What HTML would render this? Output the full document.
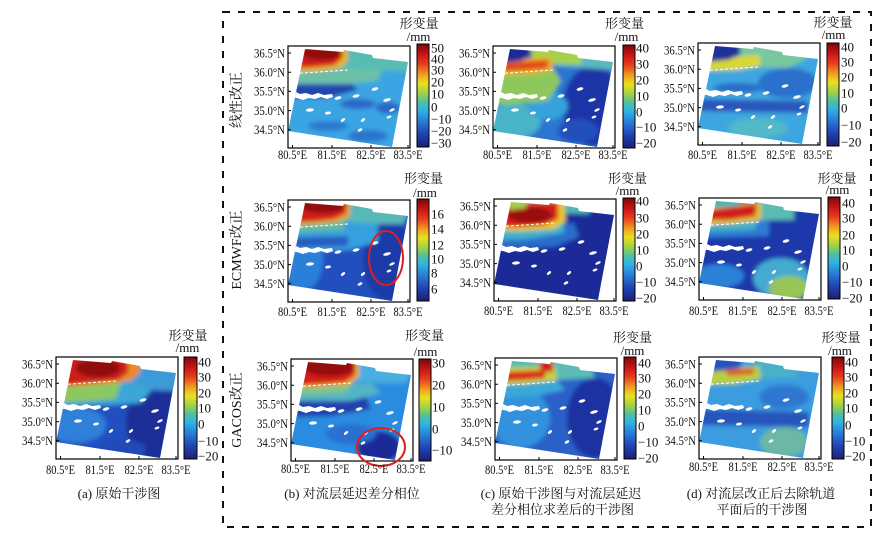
<!DOCTYPE html>
<html><head><meta charset="utf-8"><style>
html,body{margin:0;padding:0;background:#fff;}
svg{display:block;}
text{font-family:"Liberation Serif","Noto Serif CJK SC",serif;fill:#111;}
.t{font-size:12.5px;}
.k{font-size:13px;}
.c{font-size:13px;}
</style></head><body>
<svg width="895" height="546" viewBox="0 0 895 546" xmlns="http://www.w3.org/2000/svg">
<defs>
 <clipPath id="mc" clipPathUnits="userSpaceOnUse"><polygon points="17,3 55,6 56,4 84,9 85,12 120,16 104,101 0,85"/></clipPath>
 <filter id="bl" x="-20%" y="-20%" width="140%" height="140%"><feGaussianBlur stdDeviation="2"/></filter>
 <linearGradient id="jet" x1="0" y1="0" x2="0" y2="1">
  <stop offset="0" stop-color="#7c0808"/>
  <stop offset="0.1" stop-color="#c81414"/>
  <stop offset="0.2" stop-color="#e84020"/>
  <stop offset="0.3" stop-color="#f0a020"/>
  <stop offset="0.38" stop-color="#e8e020"/>
  <stop offset="0.48" stop-color="#a0d048"/>
  <stop offset="0.56" stop-color="#50c0a0"/>
  <stop offset="0.64" stop-color="#30b4e4"/>
  <stop offset="0.76" stop-color="#2878d4"/>
  <stop offset="0.88" stop-color="#2040b0"/>
  <stop offset="1" stop-color="#1c2070"/>
 </linearGradient>
 <g id="wb">
  <polyline points="2,28 15,27 30,26 45,25 60,24" fill="none" stroke="#fff" stroke-width="1.1" stroke-dasharray="3 2"/>
  <path fill="#fff" d="M1,47 L8,46 L12,48 L18,47 L24,49 L30,47 L36,49 L44,48 L45,51 L39,53 L33,51 L27,53 L21,52 L15,54 L9,52 L1,51Z"/>
  <g fill="#fff">
   <ellipse cx="50" cy="52" rx="3.5" ry="1.5" transform="rotate(-15 50 52)"/>
   <ellipse cx="68" cy="50" rx="3.5" ry="1.5" transform="rotate(-15 68 50)"/>
   <ellipse cx="87" cy="43" rx="3.5" ry="1.5" transform="rotate(-15 87 43)"/>
   <ellipse cx="99" cy="54" rx="4" ry="1.5" transform="rotate(-15 99 54)"/>
   <ellipse cx="104" cy="64" rx="3" ry="1.3" transform="rotate(-25 104 64)"/>
   <ellipse cx="22" cy="64" rx="4" ry="1.6" transform="rotate(-5 22 64)"/>
   <ellipse cx="40" cy="67" rx="3" ry="1.4" transform="rotate(-10 40 67)"/>
   <ellipse cx="55" cy="74" rx="2.5" ry="1.3" transform="rotate(-40 55 74)"/>
   <ellipse cx="75" cy="74" rx="2.5" ry="1.3" transform="rotate(-40 75 74)"/>
   <ellipse cx="72" cy="84" rx="2.5" ry="1.3" transform="rotate(-30 72 84)"/>
   <ellipse cx="101" cy="71" rx="2.5" ry="1.2" transform="rotate(-20 101 71)"/>
  </g>
 </g>
 <g id="fr">
  <rect x="0" y="0" width="122" height="102" fill="none" stroke="#000" stroke-width="1.2"/>
  <path d="M4.5,102V99M44,102V99M83,102V99M120,102V99M0,7H3M0,26.2H3M0,45.4H3M0,64.6H3M0,83.8H3" stroke="#000" stroke-width="1"/>
 </g>
</defs>
<rect width="895" height="546" fill="#fff"/>

<!-- dashed box -->
<rect x="223" y="12" width="648" height="515" fill="none" stroke="#111" stroke-width="2" stroke-dasharray="7 8"/>

<!-- ============ Panel a ============ -->
<g transform="translate(56,357)">
 <g clip-path="url(#mc)">
  <g filter="url(#bl)">
   <rect x="-10" y="-10" width="145" height="125" fill="#2050c0"/>
   <ellipse cx="100" cy="65" rx="30" ry="38" fill="#1c2e98"/>
   <ellipse cx="20" cy="68" rx="30" ry="18" fill="#2e80d8"/>
   <ellipse cx="65" cy="92" rx="25" ry="10" fill="#2448b8"/>
   <polygon points="-5,27 80,22 98,30 85,46 55,48 20,49 -5,52" fill="#3aa6d8"/>
   <polygon points="-5,28 65,25 60,42 20,45 -5,45" fill="#8cc860"/>
   <polygon points="75,5 125,12 120,34 95,33 80,26" fill="#3c9ad8"/>
   <polygon points="10,-5 84,-5 84,16 74,24 45,27 20,29 5,30" fill="#ec8a22"/>
   <polygon points="12,-5 72,-5 72,15 62,23 40,25 20,27 8,28" fill="#cc1a1a"/>
   <ellipse cx="42" cy="11" rx="22" ry="9" fill="#900c0c"/>
  </g>
  <use href="#wb"/>
 </g>
 <use href="#fr"/>
</g>

<!-- ============ Panel b1 ============ -->
<g transform="translate(288,46)">
 <g clip-path="url(#mc)">
  <g filter="url(#bl)">
   <rect x="-10" y="-10" width="145" height="125" fill="#3aa4e2"/>
   <polygon points="-5,36 60,34 70,44 40,52 -5,52" fill="#2446b0"/>
   <ellipse cx="70" cy="58" rx="18" ry="5" fill="#2a68c8"/>
   <ellipse cx="100" cy="62" rx="12" ry="6" fill="#2a68c8"/>
   <ellipse cx="40" cy="80" rx="20" ry="5" fill="#2c78d0"/>
   <ellipse cx="80" cy="90" rx="20" ry="6" fill="#2c74cc"/>
   <polygon points="-5,22 70,18 95,22 90,35 60,38 -5,38" fill="#6cc0a8"/>
   <polygon points="45,0 95,8 125,15 120,26 95,24 60,22 48,18" fill="#58bcb4"/>
   <polygon points="12,-5 58,-5 60,14 52,22 30,25 8,26" fill="#ecb024"/>
   <polygon points="14,-5 54,-5 54,12 46,19 28,21 10,22" fill="#d01c1c"/>
   <ellipse cx="34" cy="7" rx="20" ry="7" fill="#900c0c"/>
  </g>
  <use href="#wb"/>
 </g>
 <use href="#fr"/>
</g>

<!-- ============ Panel c1 ============ -->
<g transform="translate(493,46)">
 <g clip-path="url(#mc)">
  <g filter="url(#bl)">
   <rect x="-10" y="-10" width="145" height="125" fill="#2a74d0"/>
   <ellipse cx="100" cy="60" rx="30" ry="40" fill="#1e36a6"/>
   <ellipse cx="85" cy="85" rx="20" ry="12" fill="#2450bc"/>
   <ellipse cx="20" cy="75" rx="28" ry="18" fill="#48b4c8"/>
   <ellipse cx="55" cy="60" rx="20" ry="14" fill="#36a2dc"/>
   <polygon points="-5,24 60,22 68,35 55,55 20,58 -5,58" fill="#8ec85c"/>
   <polygon points="55,0 95,6 125,14 120,24 90,22 62,20" fill="#5cb8c0"/>
   <polygon points="34,-5 60,-5 90,5 88,18 60,18 40,14" fill="#a8d04c"/>
   <polygon points="5,14 58,11 60,24 40,28 5,29" fill="#eeb024"/>
   <polygon points="10,17 55,14 55,22 35,24 10,25" fill="#e04a1e"/>
   <polygon points="8,-5 38,-5 38,10 28,15 8,17" fill="#1e2c94"/>
  </g>
  <use href="#wb"/>
 </g>
 <use href="#fr"/>
</g>

<!-- ============ Panel d1 ============ -->
<g transform="translate(698,43)">
 <g clip-path="url(#mc)">
  <g filter="url(#bl)">
   <rect x="-10" y="-10" width="145" height="125" fill="#3ea6e0"/>
   <ellipse cx="90" cy="40" rx="30" ry="15" fill="#2c70cc"/>
   <polygon points="-5,56 110,58 110,70 -5,68" fill="#2a56bc"/>
   <ellipse cx="40" cy="45" rx="25" ry="5" fill="#2c6cc8"/>
   <ellipse cx="60" cy="85" rx="30" ry="10" fill="#52b8c8"/>
   <polygon points="40,0 95,6 110,15 90,25 55,24 45,18" fill="#78c8a0"/>
   <polygon points="5,15 62,12 62,23 40,27 5,28" fill="#d8d830"/>
   <polygon points="8,-5 42,-5 42,12 30,17 8,19" fill="#1e3098"/>
  </g>
  <use href="#wb"/>
 </g>
 <use href="#fr"/>
</g>

<!-- ============ Panel b2 ============ -->
<g transform="translate(288,200)">
 <g clip-path="url(#mc)">
  <g filter="url(#bl)">
   <rect x="-10" y="-10" width="145" height="125" fill="#2050c0"/>
   <ellipse cx="100" cy="60" rx="25" ry="40" fill="#1e3aa8"/>
   <ellipse cx="15" cy="60" rx="20" ry="30" fill="#2c80d8"/>
   <polygon points="-5,24 90,22 90,42 60,50 -5,52" fill="#34a0e0"/>
   <polygon points="-5,38 60,36 60,46 -5,48" fill="#2a5cc0"/>
   <polygon points="50,0 95,5 120,14 115,24 90,24 55,22" fill="#58b8b8"/>
   <polygon points="-5,22 60,18 55,30 20,32 -5,34" fill="#60bca0"/>
   <polygon points="12,-5 62,-5 62,16 50,22 30,24 8,25" fill="#eca020"/>
   <polygon points="14,-5 58,-5 58,13 46,19 28,21 10,22" fill="#d21a1a"/>
   <ellipse cx="35" cy="6" rx="22" ry="7" fill="#920c0c"/>
  </g>
  <use href="#wb"/>
 </g>
 <use href="#fr"/>
</g>
<ellipse cx="386" cy="258" rx="17" ry="27" fill="none" stroke="#e01e1e" stroke-width="2"/>

<!-- ============ Panel c2 ============ -->
<g transform="translate(494,199)">
 <g clip-path="url(#mc)">
  <g filter="url(#bl)">
   <rect x="-10" y="-10" width="145" height="125" fill="#1e2c98"/>
   <polygon points="-5,28 80,24 85,38 60,48 -5,50" fill="#2a6ccc"/>
   <polygon points="-5,26 70,24 70,34 35,40 -5,42" fill="#40b0cc"/>
   <polygon points="55,0 95,6 95,15 60,14" fill="#50b8b8"/>
   <polygon points="5,5 70,2 72,22 60,30 30,32 5,32" fill="#e8c828"/>
   <polygon points="8,6 64,3 64,20 50,26 25,28 8,28" fill="#d41c1c"/>
   <ellipse cx="36" cy="16" rx="22" ry="8" fill="#980c0c"/>
   <polygon points="14,-5 34,-5 32,9 16,11" fill="#a4d04c"/>
  </g>
  <use href="#wb"/>
 </g>
 <use href="#fr"/>
</g>

<!-- ============ Panel d2 ============ -->
<g transform="translate(699,198)">
 <g clip-path="url(#mc)">
  <g filter="url(#bl)">
   <rect x="-10" y="-10" width="145" height="125" fill="#1e38aa"/>
   <ellipse cx="20" cy="78" rx="25" ry="12" fill="#2c82d8"/>
   <ellipse cx="82" cy="80" rx="28" ry="20" fill="#44aad0"/>
   <ellipse cx="90" cy="90" rx="20" ry="12" fill="#98c458"/>
   <polygon points="-5,25 70,22 70,38 -5,40" fill="#2e7cd4"/>
   <polygon points="-5,24 60,22 55,32 -5,34" fill="#44b0c8"/>
   <polygon points="55,0 95,6 95,22 62,22" fill="#5cbcb0"/>
   <polygon points="5,8 62,4 62,22 30,26 5,27" fill="#e4c02a"/>
   <polygon points="8,12 58,6 56,18 30,22 8,22" fill="#d21c1c"/>
   <polygon points="12,-5 40,-5 40,8 14,10" fill="#4cb4b8"/>
  </g>
  <use href="#wb"/>
 </g>
 <use href="#fr"/>
</g>

<!-- ============ Panel b3 ============ -->
<g transform="translate(291,359)">
 <g clip-path="url(#mc)">
  <g filter="url(#bl)">
   <rect x="-10" y="-10" width="145" height="125" fill="#2c8ce0"/>
   <polygon points="-5,40 75,38 80,50 40,57 -5,58" fill="#2040ac"/>
   <ellipse cx="88" cy="88" rx="22" ry="16" fill="#1e2c98"/>
   <ellipse cx="60" cy="75" rx="25" ry="10" fill="#2c70d0"/>
   <polygon points="-5,26 80,24 90,34 60,42 -5,42" fill="#52b4c4"/>
   <polygon points="-5,26 60,24 55,34 20,36 -5,36" fill="#7cc490"/>
   <polygon points="55,0 95,6 120,14 115,24 85,24 60,22" fill="#4aaee0"/>
   <polygon points="10,-5 68,-5 68,18 58,26 30,28 5,29" fill="#eca824"/>
   <polygon points="12,-5 64,-5 64,16 54,23 30,25 8,26" fill="#d41c1c"/>
   <ellipse cx="38" cy="8" rx="26" ry="9" fill="#960c0c"/>
  </g>
  <use href="#wb"/>
 </g>
 <use href="#fr"/>
</g>
<ellipse cx="381" cy="447" rx="24" ry="19" fill="none" stroke="#e01e1e" stroke-width="2"/>

<!-- ============ Panel c3 ============ -->
<g transform="translate(495,358)">
 <g clip-path="url(#mc)">
  <g filter="url(#bl)">
   <rect x="-10" y="-10" width="145" height="125" fill="#2a60c8"/>
   <ellipse cx="100" cy="60" rx="28" ry="40" fill="#1e32a0"/>
   <ellipse cx="25" cy="60" rx="30" ry="30" fill="#3292de"/>
   <polygon points="-5,22 60,20 70,32 40,38 -5,40" fill="#3aa8d8"/>
   <polygon points="45,0 95,6 100,20 60,22" fill="#5cbcb4"/>
   <polygon points="12,-5 48,-5 50,10 30,14 12,14" fill="#58bcb0"/>
   <polygon points="5,10 60,8 62,22 30,26 5,27" fill="#c8d038"/>
   <polygon points="8,14 50,12 50,20 30,22 8,23" fill="#d82a1a"/>
   <polygon points="44,2 58,4 58,14 46,14" fill="#d01c1c"/>
  </g>
  <use href="#wb"/>
 </g>
 <use href="#fr"/>
</g>

<!-- ============ Panel d3 ============ -->
<g transform="translate(699,357)">
 <g clip-path="url(#mc)">
  <g filter="url(#bl)">
   <rect x="-10" y="-10" width="145" height="125" fill="#3a9ce0"/>
   <polygon points="-5,52 110,55 110,70 -5,68" fill="#2654bc"/>
   <ellipse cx="85" cy="85" rx="24" ry="15" fill="#6cb8a4"/>
   <ellipse cx="85" cy="40" rx="25" ry="12" fill="#2e78d0"/>
   <polygon points="55,0 95,6 100,20 60,22" fill="#48b0c8"/>
   <polygon points="5,12 60,9 62,22 35,27 5,28" fill="#b8d040"/>
   <polygon points="25,13 55,11 55,17 30,19" fill="#e05a1e"/>
   <polygon points="8,-5 42,-5 42,11 12,15" fill="#2452bc"/>
  </g>
  <use href="#wb"/>
 </g>
 <use href="#fr"/>
</g>

<!-- ============ Colorbars ============ -->
<g stroke="#000" stroke-width="1" fill="url(#jet)">
 <rect x="184" y="357" width="13" height="102"/>
 <rect x="417" y="44" width="12" height="103"/>
 <rect x="623" y="45" width="12" height="103"/>
 <rect x="827" y="43" width="12" height="103"/>
 <rect x="417" y="199" width="12" height="102"/>
 <rect x="623" y="198" width="12" height="103"/>
 <rect x="828" y="197" width="12" height="102"/>
 <rect x="419" y="359" width="12" height="102"/>
 <rect x="624" y="357" width="12" height="102"/>
 <rect x="832" y="357" width="12" height="102"/>
</g>

<!-- colorbar labels -->
<g class="k">
 <text x="198" y="366.5">40</text><text x="198" y="381.5">30</text><text x="198" y="397.5">20</text><text x="198" y="412.5">10</text><text x="198" y="428.5">0</text><text x="198" y="445.5">−10</text><text x="198" y="460.5">−20</text>
 <text x="431" y="52.5">50</text><text x="431" y="63.5">40</text><text x="431" y="74.5">30</text><text x="431" y="86.5">20</text><text x="431" y="98.5">10</text><text x="431" y="111.5">0</text><text x="431" y="123.5">−10</text><text x="431" y="135.5">−20</text><text x="431" y="147.5">−30</text>
 <text x="636" y="52.5">40</text><text x="636" y="68.5">30</text><text x="636" y="84.5">20</text><text x="636" y="100.5">10</text><text x="636" y="116.5">0</text><text x="636" y="131.5">−10</text><text x="636" y="147.5">−20</text>
 <text x="841" y="51.5">40</text><text x="841" y="66.5">30</text><text x="841" y="81.5">20</text><text x="841" y="97.5">10</text><text x="841" y="112.5">0</text><text x="841" y="129.5">−10</text><text x="841" y="146.5">−20</text>
 <text x="431" y="218.5">16</text><text x="431" y="233.5">14</text><text x="431" y="249.5">12</text><text x="431" y="263.5">10</text><text x="431" y="277.5">8</text><text x="431" y="293.5">6</text>
 <text x="636" y="205.5">40</text><text x="636" y="222.5">30</text><text x="636" y="238.5">20</text><text x="636" y="254.5">10</text><text x="636" y="270.5">0</text><text x="636" y="286.5">−10</text><text x="636" y="302.5">−20</text>
 <text x="842" y="207.5">40</text><text x="842" y="222.5">30</text><text x="842" y="239.5">20</text><text x="842" y="254.5">10</text><text x="842" y="270.5">0</text><text x="842" y="286.5">−10</text><text x="842" y="302.5">−20</text>
 <text x="432" y="367.5">30</text><text x="432" y="389.5">20</text><text x="432" y="411.5">10</text><text x="432" y="433.5">0</text><text x="432" y="454.5">−10</text>
 <text x="638" y="367.5">40</text><text x="638" y="382.5">30</text><text x="638" y="398.5">20</text><text x="638" y="414.5">10</text><text x="638" y="430.5">0</text><text x="638" y="446.5">−10</text><text x="638" y="462.5">−20</text>
 <text x="845" y="366.5">40</text><text x="845" y="381.5">30</text><text x="845" y="397.5">20</text><text x="845" y="412.5">10</text><text x="845" y="429.5">0</text><text x="845" y="445.5">−10</text><text x="845" y="460.5">−20</text>
</g>

<!-- unit labels -->
<g class="c" text-anchor="middle">
 <text x="188" y="340">形变量</text><text x="187.5" y="352">/mm</text>
 <text x="419" y="28">形变量</text><text x="418.5" y="41">/mm</text>
 <text x="624.5" y="28">形变量</text><text x="626.5" y="41">/mm</text>
 <text x="833" y="27">形变量</text><text x="833.5" y="39">/mm</text>
 <text x="423.5" y="183">形变量</text><text x="425" y="197">/mm</text>
 <text x="627.5" y="183">形变量</text><text x="627.5" y="195">/mm</text>
 <text x="837" y="183">形变量</text><text x="837.5" y="194">/mm</text>
 <text x="424.5" y="340">形变量</text><text x="425.5" y="356">/mm</text>
 <text x="632.5" y="342">形变量</text><text x="632.5" y="355">/mm</text>
 <text x="841" y="342">形变量</text><text x="840" y="355">/mm</text>
</g>

<!-- latitude labels -->
<g class="t" text-anchor="end">
 <text x="53" y="368.3" textLength="31" lengthAdjust="spacingAndGlyphs">36.5°N</text><text x="53" y="387.5" textLength="31" lengthAdjust="spacingAndGlyphs">36.0°N</text><text x="53" y="406.7" textLength="31" lengthAdjust="spacingAndGlyphs">35.5°N</text><text x="53" y="425.9" textLength="31" lengthAdjust="spacingAndGlyphs">35.0°N</text><text x="53" y="445.1" textLength="31" lengthAdjust="spacingAndGlyphs">34.5°N</text>

 <text x="285" y="57.3" textLength="31" lengthAdjust="spacingAndGlyphs">36.5°N</text><text x="285" y="76.5" textLength="31" lengthAdjust="spacingAndGlyphs">36.0°N</text><text x="285" y="95.7" textLength="31" lengthAdjust="spacingAndGlyphs">35.5°N</text><text x="285" y="114.9" textLength="31" lengthAdjust="spacingAndGlyphs">35.0°N</text><text x="285" y="134.1" textLength="31" lengthAdjust="spacingAndGlyphs">34.5°N</text>

 <text x="490" y="57.3" textLength="31" lengthAdjust="spacingAndGlyphs">36.5°N</text><text x="490" y="76.5" textLength="31" lengthAdjust="spacingAndGlyphs">36.0°N</text><text x="490" y="95.7" textLength="31" lengthAdjust="spacingAndGlyphs">35.5°N</text><text x="490" y="114.9" textLength="31" lengthAdjust="spacingAndGlyphs">35.0°N</text><text x="490" y="134.1" textLength="31" lengthAdjust="spacingAndGlyphs">34.5°N</text>

 <text x="695" y="54.3" textLength="31" lengthAdjust="spacingAndGlyphs">36.5°N</text><text x="695" y="73.5" textLength="31" lengthAdjust="spacingAndGlyphs">36.0°N</text><text x="695" y="92.7" textLength="31" lengthAdjust="spacingAndGlyphs">35.5°N</text><text x="695" y="111.9" textLength="31" lengthAdjust="spacingAndGlyphs">35.0°N</text><text x="695" y="131.1" textLength="31" lengthAdjust="spacingAndGlyphs">34.5°N</text>

 <text x="285" y="211.3" textLength="31" lengthAdjust="spacingAndGlyphs">36.5°N</text><text x="285" y="230.5" textLength="31" lengthAdjust="spacingAndGlyphs">36.0°N</text><text x="285" y="249.7" textLength="31" lengthAdjust="spacingAndGlyphs">35.5°N</text><text x="285" y="268.9" textLength="31" lengthAdjust="spacingAndGlyphs">35.0°N</text><text x="285" y="288.1" textLength="31" lengthAdjust="spacingAndGlyphs">34.5°N</text>

 <text x="491" y="210.3" textLength="31" lengthAdjust="spacingAndGlyphs">36.5°N</text><text x="491" y="229.5" textLength="31" lengthAdjust="spacingAndGlyphs">36.0°N</text><text x="491" y="248.7" textLength="31" lengthAdjust="spacingAndGlyphs">35.5°N</text><text x="491" y="267.9" textLength="31" lengthAdjust="spacingAndGlyphs">35.0°N</text><text x="491" y="287.1" textLength="31" lengthAdjust="spacingAndGlyphs">34.5°N</text>

 <text x="696" y="209.3" textLength="31" lengthAdjust="spacingAndGlyphs">36.5°N</text><text x="696" y="228.5" textLength="31" lengthAdjust="spacingAndGlyphs">36.0°N</text><text x="696" y="247.7" textLength="31" lengthAdjust="spacingAndGlyphs">35.5°N</text><text x="696" y="266.9" textLength="31" lengthAdjust="spacingAndGlyphs">35.0°N</text><text x="696" y="286.1" textLength="31" lengthAdjust="spacingAndGlyphs">34.5°N</text>

 <text x="288" y="370.3" textLength="31" lengthAdjust="spacingAndGlyphs">36.5°N</text><text x="288" y="389.5" textLength="31" lengthAdjust="spacingAndGlyphs">36.0°N</text><text x="288" y="408.7" textLength="31" lengthAdjust="spacingAndGlyphs">35.5°N</text><text x="288" y="427.9" textLength="31" lengthAdjust="spacingAndGlyphs">35.0°N</text><text x="288" y="447.1" textLength="31" lengthAdjust="spacingAndGlyphs">34.5°N</text>

 <text x="492" y="369.3" textLength="31" lengthAdjust="spacingAndGlyphs">36.5°N</text><text x="492" y="388.5" textLength="31" lengthAdjust="spacingAndGlyphs">36.0°N</text><text x="492" y="407.7" textLength="31" lengthAdjust="spacingAndGlyphs">35.5°N</text><text x="492" y="426.9" textLength="31" lengthAdjust="spacingAndGlyphs">35.0°N</text><text x="492" y="446.1" textLength="31" lengthAdjust="spacingAndGlyphs">34.5°N</text>

 <text x="696" y="368.3" textLength="31" lengthAdjust="spacingAndGlyphs">36.5°N</text><text x="696" y="387.5" textLength="31" lengthAdjust="spacingAndGlyphs">36.0°N</text><text x="696" y="406.7" textLength="31" lengthAdjust="spacingAndGlyphs">35.5°N</text><text x="696" y="425.9" textLength="31" lengthAdjust="spacingAndGlyphs">35.0°N</text><text x="696" y="445.1" textLength="31" lengthAdjust="spacingAndGlyphs">34.5°N</text>
</g>

<!-- longitude labels -->
<g class="t" text-anchor="middle">
 <text x="60.5" y="474" textLength="29" lengthAdjust="spacingAndGlyphs">80.5°E</text><text x="100" y="474" textLength="29" lengthAdjust="spacingAndGlyphs">81.5°E</text><text x="139" y="474" textLength="29" lengthAdjust="spacingAndGlyphs">82.5°E</text><text x="176" y="474" textLength="29" lengthAdjust="spacingAndGlyphs">83.5°E</text>

 <text x="292.5" y="159" textLength="29" lengthAdjust="spacingAndGlyphs">80.5°E</text><text x="332" y="159" textLength="29" lengthAdjust="spacingAndGlyphs">81.5°E</text><text x="371" y="159" textLength="29" lengthAdjust="spacingAndGlyphs">82.5°E</text><text x="408" y="159" textLength="29" lengthAdjust="spacingAndGlyphs">83.5°E</text>

 <text x="497.5" y="159" textLength="29" lengthAdjust="spacingAndGlyphs">80.5°E</text><text x="537" y="159" textLength="29" lengthAdjust="spacingAndGlyphs">81.5°E</text><text x="576" y="159" textLength="29" lengthAdjust="spacingAndGlyphs">82.5°E</text><text x="613" y="159" textLength="29" lengthAdjust="spacingAndGlyphs">83.5°E</text>

 <text x="702.5" y="159" textLength="29" lengthAdjust="spacingAndGlyphs">80.5°E</text><text x="742" y="159" textLength="29" lengthAdjust="spacingAndGlyphs">81.5°E</text><text x="781" y="159" textLength="29" lengthAdjust="spacingAndGlyphs">82.5°E</text><text x="818" y="159" textLength="29" lengthAdjust="spacingAndGlyphs">83.5°E</text>

 <text x="292.5" y="316" textLength="29" lengthAdjust="spacingAndGlyphs">80.5°E</text><text x="332" y="316" textLength="29" lengthAdjust="spacingAndGlyphs">81.5°E</text><text x="371" y="316" textLength="29" lengthAdjust="spacingAndGlyphs">82.5°E</text><text x="408" y="316" textLength="29" lengthAdjust="spacingAndGlyphs">83.5°E</text>

 <text x="498.5" y="315" textLength="29" lengthAdjust="spacingAndGlyphs">80.5°E</text><text x="538" y="315" textLength="29" lengthAdjust="spacingAndGlyphs">81.5°E</text><text x="577" y="315" textLength="29" lengthAdjust="spacingAndGlyphs">82.5°E</text><text x="614" y="315" textLength="29" lengthAdjust="spacingAndGlyphs">83.5°E</text>

 <text x="703.5" y="315" textLength="29" lengthAdjust="spacingAndGlyphs">80.5°E</text><text x="743" y="315" textLength="29" lengthAdjust="spacingAndGlyphs">81.5°E</text><text x="782" y="315" textLength="29" lengthAdjust="spacingAndGlyphs">82.5°E</text><text x="819" y="315" textLength="29" lengthAdjust="spacingAndGlyphs">83.5°E</text>

 <text x="295.5" y="473" textLength="29" lengthAdjust="spacingAndGlyphs">80.5°E</text><text x="335" y="473" textLength="29" lengthAdjust="spacingAndGlyphs">81.5°E</text><text x="374" y="473" textLength="29" lengthAdjust="spacingAndGlyphs">82.5°E</text><text x="411" y="473" textLength="29" lengthAdjust="spacingAndGlyphs">83.5°E</text>

 <text x="499.5" y="474" textLength="29" lengthAdjust="spacingAndGlyphs">80.5°E</text><text x="539" y="474" textLength="29" lengthAdjust="spacingAndGlyphs">81.5°E</text><text x="578" y="474" textLength="29" lengthAdjust="spacingAndGlyphs">82.5°E</text><text x="615" y="474" textLength="29" lengthAdjust="spacingAndGlyphs">83.5°E</text>

 <text x="703.5" y="471" textLength="29" lengthAdjust="spacingAndGlyphs">80.5°E</text><text x="743" y="471" textLength="29" lengthAdjust="spacingAndGlyphs">81.5°E</text><text x="782" y="471" textLength="29" lengthAdjust="spacingAndGlyphs">82.5°E</text><text x="819" y="471" textLength="29" lengthAdjust="spacingAndGlyphs">83.5°E</text>
</g>

<!-- row labels -->
<g style="font-size:14px" text-anchor="middle">
 <text transform="translate(241,100) rotate(-90)">线性改正</text>
 <text transform="translate(241,250) rotate(-90)">ECMWF改正</text>
 <text transform="translate(241,410) rotate(-90)">GACOS改正</text>
</g>

<!-- captions -->
<g class="c" text-anchor="middle">
 <text x="119" y="498">(a) 原始干涉图</text>
 <text x="352" y="498">(b) 对流层延迟差分相位</text>
 <text x="561" y="498">(c) 原始干涉图与对流层延迟</text>
 <text x="562.5" y="514">差分相位求差后的干涉图</text>
 <text x="761" y="498">(d) 对流层改正后去除轨道</text>
 <text x="762" y="514">平面后的干涉图</text>
</g>
</svg>
</body></html>
